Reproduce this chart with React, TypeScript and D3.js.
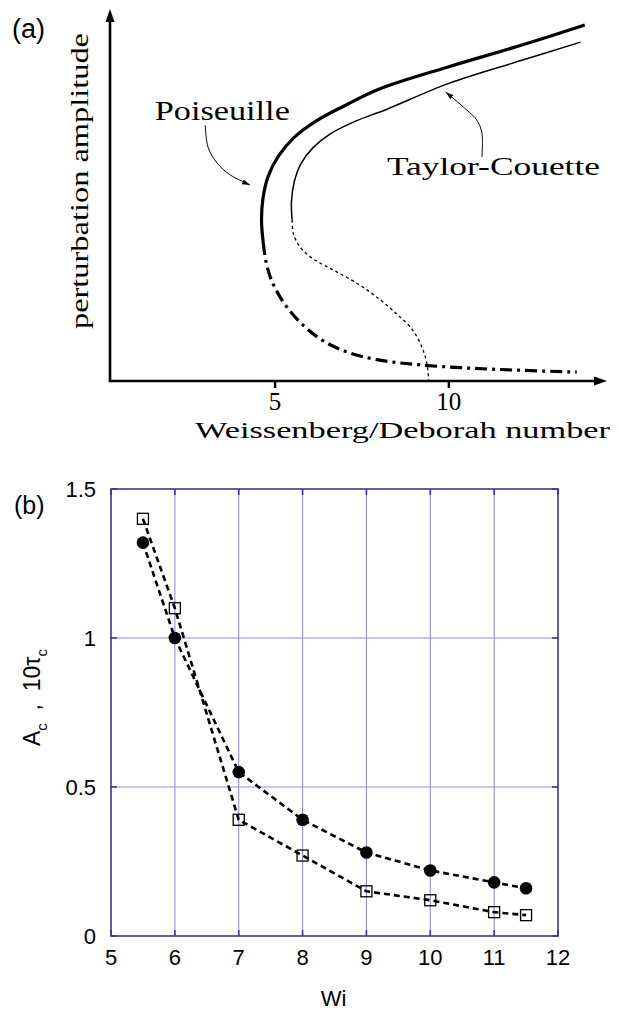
import { useEffect, useRef } from 'react';
import * as d3 from 'd3';

type Pt = [number, number];

// (a) schematic bifurcation diagram, [Wi, amplitude] in arbitrary units
const POISEUILLE_STABLE: Pt[] = [
  [4.66, 3.71], [4.61, 4.3], [4.65, 4.9], [4.8, 5.5], [5.1, 6.05], [5.55, 6.55],
  [6.2, 7.0], [7.0, 7.4], [8.0, 7.85], [10.0, 8.45], [12.1, 9.03], [13.91, 9.57],
];
const POISEUILLE_UNSTABLE: Pt[] = [
  [4.66, 3.71], [4.74, 3.2], [4.9, 2.7], [5.15, 2.25], [5.5, 1.8], [5.9, 1.42],
  [6.35, 1.1], [6.9, 0.84], [7.5, 0.66], [8.3, 0.52], [9.2, 0.43], [10.5, 0.35],
  [12.0, 0.29], [13.68, 0.24],
];
const TC_STABLE: Pt[] = [
  [5.49, 4.33], [5.47, 4.8], [5.55, 5.35], [5.75, 5.85], [6.1, 6.28], [6.6, 6.65],
  [7.3, 6.98], [8.2, 7.3], [10.0, 8.0], [12.1, 8.62], [13.79, 9.11],
];
const TC_UNSTABLE: Pt[] = [
  [5.49, 4.33], [5.53, 3.95], [5.72, 3.6], [6.1, 3.28], [6.7, 2.97], [7.4, 2.6],
  [8.0, 2.2], [8.5, 1.8], [8.95, 1.38], [9.25, 0.85], [9.38, 0.4], [9.42, 0],
];
const POISEUILLE_POINTER: Pt[] = [[2.99, 6.88], [3.07, 6.29], [3.33, 5.86], [3.71, 5.54], [4.28, 5.27]];
const TC_POINTER: Pt[] = [[10.95, 6.02], [10.95, 6.67], [10.8, 7.02], [10.52, 7.28], [9.91, 7.77]];
const POISEUILLE_LABEL: Pt = [1.54, 7.02];
const TC_LABEL: Pt = [8.22, 5.54];
const A_X_TICKS = [5, 10];

// (b) critical amplitude and growth time vs Wi
const WI = [5.5, 6, 7, 8, 9, 10, 11, 11.5];
const AMPLITUDE_C = [1.32, 1.0, 0.55, 0.39, 0.28, 0.22, 0.18, 0.16];
const TAU_C_X10 = [1.4, 1.1, 0.39, 0.27, 0.15, 0.12, 0.08, 0.07];
const B_X_TICKS = [5, 6, 7, 8, 9, 10, 11, 12];
const B_Y_TICKS = [0, 0.5, 1, 1.5];

const SERIF = '"Liberation Serif", "DejaVu Serif", serif';
const SANS = '"Liberation Sans", Arial, sans-serif';
const GRID = '#9a8cd0';
const FRAME = '#46309c';

type Sel = d3.Selection<SVGSVGElement, unknown, null, undefined>;

function drawBifurcation(svg: Sel) {
  const x = d3.scaleLinear().domain([0.25, 14.55]).range([110, 607]);
  const y = d3.scaleLinear().domain([0, 10]).range([381, 9]);
  const line = d3.line<Pt>().x((d) => x(d[0])).y((d) => y(d[1])).curve(d3.curveCatmullRom.alpha(0.5));
  const g = svg.append('g');

  // axes with arrow heads
  g.append('line')
    .attr('x1', x(0.25)).attr('x2', x(0.25))
    .attr('y1', y(0)).attr('y2', y(10) + 6)
    .attr('stroke', '#000').attr('stroke-width', 2.6)
    .attr('marker-end', 'url(#axis-head)');
  g.append('line')
    .attr('x1', x(0.25) - 1.3).attr('x2', x(14.55) - 6)
    .attr('y1', y(0)).attr('y2', y(0))
    .attr('stroke', '#000').attr('stroke-width', 2.6)
    .attr('marker-end', 'url(#axis-head)');

  g.selectAll('.tick')
    .data(A_X_TICKS)
    .join('line')
    .attr('x1', (d) => x(d)).attr('x2', (d) => x(d))
    .attr('y1', y(0)).attr('y2', y(0) + 7)
    .attr('stroke', '#000').attr('stroke-width', 2.4);
  g.selectAll('.ticklabel')
    .data(A_X_TICKS)
    .join('text')
    .attr('x', (d) => x(d)).attr('y', y(0) + 29)
    .attr('text-anchor', 'middle')
    .attr('font-family', SERIF).attr('font-size', 25)
    .text((d) => String(d));

  const curves: { pts: Pt[]; w: number; dash: string | null }[] = [
    { pts: POISEUILLE_STABLE, w: 3.2, dash: null },
    { pts: POISEUILLE_UNSTABLE, w: 3.2, dash: '12,5,3,5' },
    { pts: TC_STABLE, w: 1.5, dash: null },
    { pts: TC_UNSTABLE, w: 1.3, dash: '3,3' },
  ];
  for (const c of curves) {
    g.append('path')
      .attr('d', line(c.pts))
      .attr('fill', 'none')
      .attr('stroke', '#000')
      .attr('stroke-width', c.w)
      .attr('stroke-dasharray', c.dash);
  }

  for (const p of [POISEUILLE_POINTER, TC_POINTER]) {
    g.append('path')
      .attr('d', line(p))
      .attr('fill', 'none')
      .attr('stroke', '#000')
      .attr('stroke-width', 1)
      .attr('marker-end', 'url(#note-head)');
  }

  g.append('text')
    .attr('x', x(POISEUILLE_LABEL[0])).attr('y', y(POISEUILLE_LABEL[1]))
    .attr('font-family', SERIF).attr('font-size', 27)
    .attr('textLength', 135).attr('lengthAdjust', 'spacingAndGlyphs')
    .text('Poiseuille');
  g.append('text')
    .attr('x', x(TC_LABEL[0])).attr('y', y(TC_LABEL[1]))
    .attr('font-family', SERIF).attr('font-size', 26)
    .attr('textLength', 213).attr('lengthAdjust', 'spacingAndGlyphs')
    .text('Taylor-Couette');

  g.append('text')
    .attr('x', 195).attr('y', 438)
    .attr('font-family', SERIF).attr('font-size', 24)
    .attr('textLength', 415).attr('lengthAdjust', 'spacingAndGlyphs')
    .text('Weissenberg/Deborah number');
  g.append('text')
    .attr('transform', 'translate(88,181) rotate(-90)')
    .attr('text-anchor', 'middle')
    .attr('font-family', SERIF).attr('font-size', 26)
    .attr('textLength', 296).attr('lengthAdjust', 'spacingAndGlyphs')
    .text('perturbation amplitude');

  g.append('text')
    .attr('x', 12).attr('y', 38)
    .attr('font-family', SANS).attr('font-size', 27)
    .text('(a)');
}

function drawCritical(svg: Sel) {
  const x = d3.scaleLinear().domain([5, 12]).range([111, 558]);
  const y = d3.scaleLinear().domain([0, 1.5]).range([936, 489]);
  const g = svg.append('g');

  // grid
  g.selectAll('.vgrid')
    .data(B_X_TICKS.slice(1, -1))
    .join('line')
    .attr('x1', (d) => x(d)).attr('x2', (d) => x(d))
    .attr('y1', y(0)).attr('y2', y(1.5))
    .attr('stroke', GRID).attr('stroke-width', 1.1);
  g.selectAll('.hgrid')
    .data(B_Y_TICKS.slice(1, -1))
    .join('line')
    .attr('x1', x(5)).attr('x2', x(12))
    .attr('y1', (d) => y(d)).attr('y2', (d) => y(d))
    .attr('stroke', GRID).attr('stroke-width', 1.1);

  // inward tick marks on all sides
  const tl = 6;
  for (const t of B_X_TICKS) {
    g.append('line').attr('x1', x(t)).attr('x2', x(t)).attr('y1', y(0)).attr('y2', y(0) - tl)
      .attr('stroke', FRAME).attr('stroke-width', 1.6);
    g.append('line').attr('x1', x(t)).attr('x2', x(t)).attr('y1', y(1.5)).attr('y2', y(1.5) + tl)
      .attr('stroke', FRAME).attr('stroke-width', 1.6);
  }
  for (const t of B_Y_TICKS) {
    g.append('line').attr('x1', x(5)).attr('x2', x(5) + tl).attr('y1', y(t)).attr('y2', y(t))
      .attr('stroke', FRAME).attr('stroke-width', 1.6);
    g.append('line').attr('x1', x(12)).attr('x2', x(12) - tl).attr('y1', y(t)).attr('y2', y(t))
      .attr('stroke', FRAME).attr('stroke-width', 1.6);
  }
  g.append('rect')
    .attr('x', x(5)).attr('y', y(1.5))
    .attr('width', x(12) - x(5)).attr('height', y(0) - y(1.5))
    .attr('fill', 'none').attr('stroke', FRAME).attr('stroke-width', 1.6);

  g.selectAll('.xl')
    .data(B_X_TICKS)
    .join('text')
    .attr('x', (d) => x(d)).attr('y', y(0) + 29)
    .attr('text-anchor', 'middle')
    .attr('font-family', SANS).attr('font-size', 22)
    .text((d) => String(d));
  g.selectAll('.yl')
    .data(B_Y_TICKS)
    .join('text')
    .attr('x', x(5) - 15).attr('y', (d) => y(d) + 8)
    .attr('text-anchor', 'end')
    .attr('font-family', SANS).attr('font-size', 22)
    .text((d) => String(d));

  const ptsA: Pt[] = WI.map((w, i) => [w, AMPLITUDE_C[i]]);
  const ptsT: Pt[] = WI.map((w, i) => [w, TAU_C_X10[i]]);
  const line = d3.line<Pt>().x((d) => x(d[0])).y((d) => y(d[1]));

  for (const pts of [ptsA, ptsT]) {
    g.append('path')
      .attr('d', line(pts))
      .attr('fill', 'none')
      .attr('stroke', '#000')
      .attr('stroke-width', 2.6)
      .attr('stroke-dasharray', '6,4');
  }
  g.selectAll('.circ')
    .data(ptsA)
    .join('circle')
    .attr('cx', (d) => x(d[0])).attr('cy', (d) => y(d[1]))
    .attr('r', 6.3)
    .attr('fill', '#000');
  const s = 11;
  g.selectAll('.sq')
    .data(ptsT)
    .join('rect')
    .attr('x', (d) => x(d[0]) - s / 2).attr('y', (d) => y(d[1]) - s / 2)
    .attr('width', s).attr('height', s)
    .attr('fill', 'none').attr('stroke', '#000').attr('stroke-width', 1.3);

  g.append('text')
    .attr('x', (x(5) + x(12)) / 2 - 1).attr('y', y(0) + 70)
    .attr('text-anchor', 'middle')
    .attr('font-family', SANS).attr('font-size', 22)
    .text('Wi');

  const yl = g.append('text')
    .attr('transform', `translate(40,${y(0.8)}) rotate(-90)`)
    .attr('text-anchor', 'middle')
    .attr('font-family', SANS).attr('font-size', 23);
  yl.append('tspan').text('A');
  yl.append('tspan').attr('dy', 7).attr('font-size', 15).text('c');
  yl.append('tspan').attr('dy', -7).attr('xml:space', 'preserve').text('  ,  10τ');
  yl.append('tspan').attr('dy', 7).attr('font-size', 15).text('c');

  g.append('text')
    .attr('x', 14).attr('y', 514)
    .attr('font-family', SANS).attr('font-size', 25)
    .text('(b)');
}

export default function App() {
  const svgRef = useRef<SVGSVGElement>(null);

  useEffect(() => {
    const svg = d3.select(svgRef.current!) as Sel;
    svg.selectAll('*').remove();
    const defs = svg.append('defs');
    defs.append('marker')
      .attr('id', 'axis-head')
      .attr('viewBox', '-13 -5 13 10')
      .attr('markerUnits', 'userSpaceOnUse')
      .attr('markerWidth', 13).attr('markerHeight', 10)
      .attr('refX', -6).attr('refY', 0)
      .attr('orient', 'auto')
      .append('path').attr('d', 'M0,0L-13,-4.5L-13,4.5Z').attr('fill', '#000');
    defs.append('marker')
      .attr('id', 'note-head')
      .attr('viewBox', '-8 -3 8 6')
      .attr('markerUnits', 'userSpaceOnUse')
      .attr('markerWidth', 8).attr('markerHeight', 6)
      .attr('refX', 0).attr('refY', 0)
      .attr('orient', 'auto')
      .append('path').attr('d', 'M0,0L-8,-2.6L-8,2.6Z').attr('fill', '#000');
    drawBifurcation(svg);
    drawCritical(svg);
  }, []);

  return (
    <svg
      ref={svgRef}
      width={620}
      height={1012}
      style={{ position: 'absolute', left: 0, top: 0, background: '#fff' }}
    />
  );
}
